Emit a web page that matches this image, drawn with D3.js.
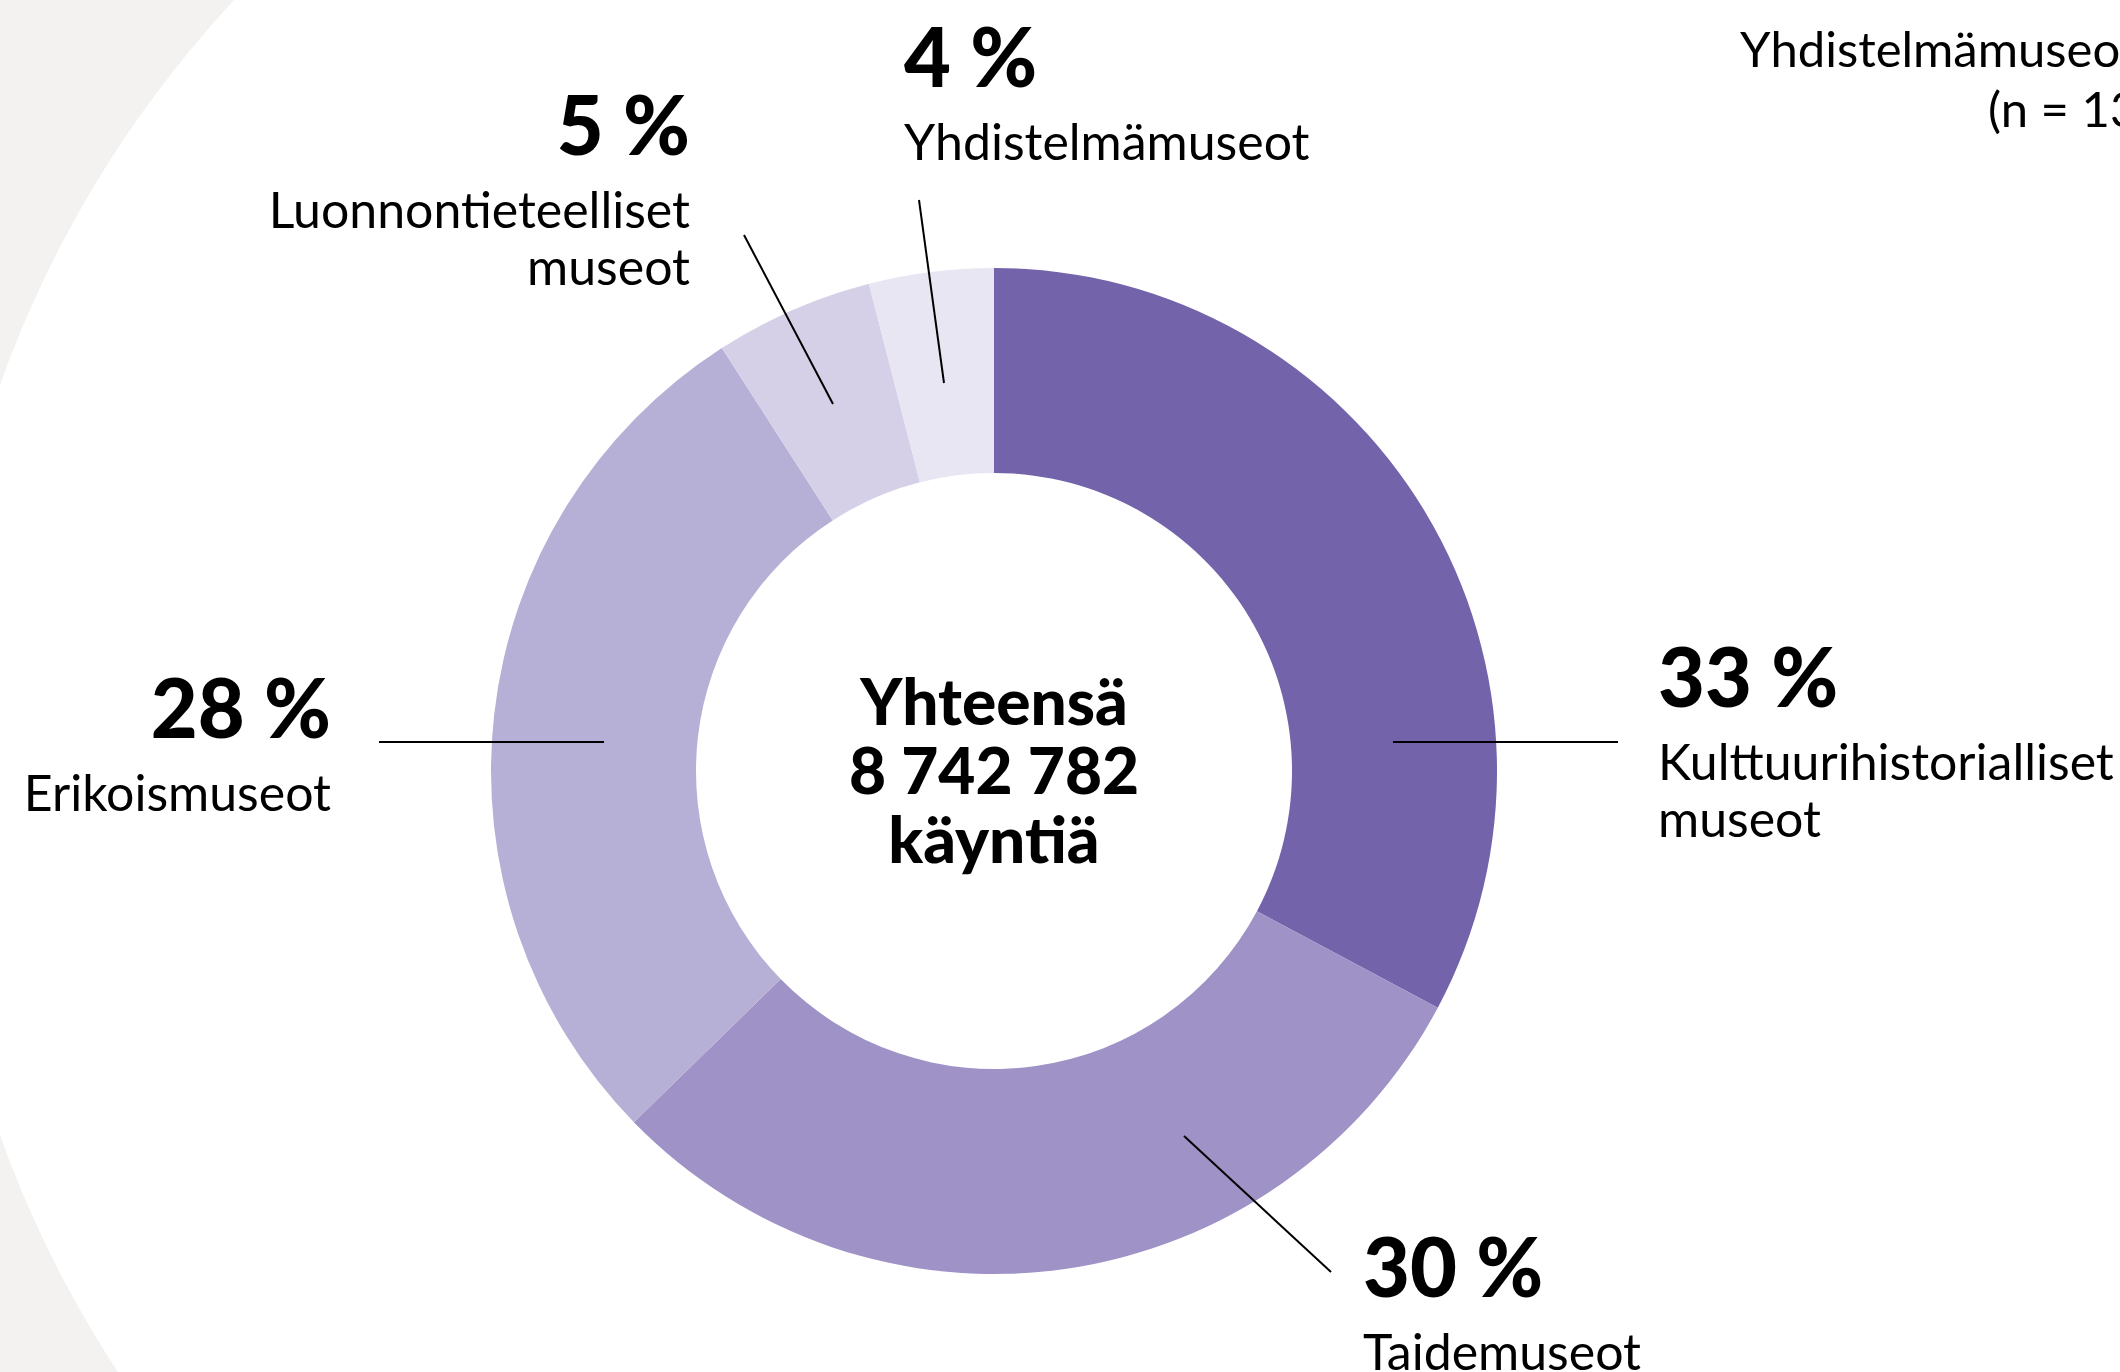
<!DOCTYPE html>
<html>
<head>
<meta charset="utf-8">
<script src="https://cdn.jsdelivr.net/npm/d3@7"></script>
<style>
  html, body { margin: 0; padding: 0; background: #f3f2f0; overflow: hidden; }
  svg { display: block; font-family: Lato, "Noto Sans", sans-serif; }
</style>
</head>
<body>
<svg id="chart" width="2120" height="1372"></svg>
<script>
// museotyypit ja osuudet käynneistä (%)
const categories = ["Kulttuurihistorialliset museot", "Taidemuseot", "Erikoismuseot",
                    "Luonnontieteelliset museot", "Yhdistelmämuseot"];
const shares = [32.8, 29.9, 28.2, 5.1, 4.0];
const shareLabels = ["33 %", "30 %", "28 %", "5 %", "4 %"];
const nameLines = [["Kulttuurihistorialliset", "museot"], ["Taidemuseot"], ["Erikoismuseot"],
                   ["Luonnontieteelliset", "museot"], ["Yhdistelmämuseot"]];
const colors = ["#7363ab", "#9f92c6", "#b7b0d6", "#d5d0e8", "#e9e6f3"];
const centerLines = ["Yhteensä", "8 742 782", "käyntiä"];

// label placement (page layout, not data)
const labelLayout = [
  {x: 1658, y: 707, anchor: "start", line: [1393, 742, 1618, 742]},
  {x: 1363, y: 1297, anchor: "start", line: [1184, 1136, 1331, 1272]},
  {x: 331, y: 738, anchor: "end", line: [379, 742, 604, 742]},
  {x: 690, y: 155, anchor: "end", line: [744, 235, 833, 404]},
  {x: 904, y: 87, anchor: "start", line: [919, 200, 944, 383]}
];

const W = 2120, H = 1372;
const cx = 994, cy = 771, outerR = 503, innerR = 298;

const svg = d3.select("#chart");

// white backdrop: big circle on the left, plain white to the right
svg.append("rect").attr("width", W).attr("height", H).attr("fill", "#f3f2f0");
svg.append("circle")
    .attr("cx", 1050).attr("cy", 760).attr("r", 1115)
    .attr("fill", "#ffffff");
svg.append("rect")
    .attr("x", 1050).attr("y", 0)
    .attr("width", W - 1050).attr("height", H)
    .attr("fill", "#ffffff");

const data = categories.map((c, i) => ({name: c, value: shares[i], i: i}));

const pie = d3.pie().value(d => d.value).sort(null);
const arc = d3.arc().innerRadius(innerR).outerRadius(outerR);
const color = d3.scaleOrdinal().domain(categories).range(colors);

const g = svg.append("g").attr("transform", `translate(${cx},${cy})`);
g.selectAll("path")
    .data(pie(data))
    .enter()
    .append("path")
    .attr("d", arc)
    .attr("fill", d => color(d.data.name));

// leader lines
labelLayout.forEach(l => {
    svg.append("line")
        .attr("x1", l.line[0]).attr("y1", l.line[1])
        .attr("x2", l.line[2]).attr("y2", l.line[3])
        .attr("stroke", "#000")
        .attr("stroke-width", 2);
});

// labels
data.forEach((d, i) => {
    const l = labelLayout[i];
    svg.append("text")
        .attr("x", l.x).attr("y", l.y)
        .attr("text-anchor", l.anchor)
        .attr("font-size", 81)
        .attr("font-weight", 900)
        .attr("fill", "#000")
        .text(shareLabels[i]);
    const t = svg.append("text")
        .attr("x", l.x).attr("y", l.y + 73)
        .attr("text-anchor", l.anchor)
        .attr("font-size", 50)
        .attr("fill", "#000");
    nameLines[i].forEach((s, j) => {
        t.append("tspan")
            .attr("x", l.x)
            .attr("dy", j === 0 ? 0 : 57)
            .text(s);
    });
});

// centre total
const ct = svg.append("text")
    .attr("x", cx).attr("y", 725)
    .attr("text-anchor", "middle")
    .attr("font-size", 64)
    .attr("font-weight", 900)
    .attr("fill", "#000");
centerLines.forEach((s, j) => {
    ct.append("tspan").attr("x", cx).attr("dy", j === 0 ? 0 : 69).text(s);
});

// neighbouring chart's label, cut at the right edge
svg.append("text")
    .attr("x", 1740).attr("y", 67)
    .attr("font-size", 49)
    .attr("fill", "#000")
    .text("Yhdistelmämuseot");
svg.append("text")
    .attr("x", 1988).attr("y", 127)
    .attr("font-size", 49)
    .attr("fill", "#000")
    .text("(n = 13)");
</script>
</body>
</html>
